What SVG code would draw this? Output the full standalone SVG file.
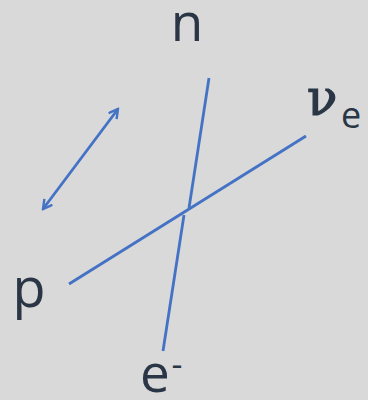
<svg xmlns="http://www.w3.org/2000/svg" width="368" height="400" viewBox="0 0 368 400">
<style>
.t{font-family:"Open Sans","Liberation Sans",sans-serif;fill:#2a3646}
.l{stroke:#4472c4;stroke-width:2.8;fill:none;stroke-linecap:butt}
</style>
<defs>
<marker id="ah" viewBox="0 0 12 12" refX="10" refY="6" markerWidth="12" markerHeight="12" markerUnits="userSpaceOnUse" orient="auto-start-reverse">
<path d="M1,1 L10,6 L1,11" fill="none" stroke="#4472c4" stroke-width="2.4"/>
</marker>
</defs>
<rect width="368" height="400" fill="#d9d9d9"/>
<g id="connectors">
<line class="l" x1="209" y1="78" x2="189" y2="208"/>
<line class="l" x1="184" y1="215" x2="163" y2="351"/>
<line class="l" x1="69" y1="284" x2="306" y2="136"/>
<line class="l" x1="43" y1="209" x2="118" y2="109" marker-start="url(#ah)" marker-end="url(#ah)"/>
</g>
<g id="n"><text class="t" x="187" y="41" font-size="53" text-anchor="middle">n</text></g>
<g id="p"><text class="t" x="29" y="307" font-size="54" text-anchor="middle">p</text></g>
<g id="nue"><text class="t" x="307" y="115" font-size="50" style="font-family:'DejaVu Serif','Liberation Serif',serif;stroke:#2a3646;stroke-width:1.2">ν</text><text class="t" x="341" y="128" font-size="36">e</text></g>
<g id="e"><text class="t" x="155" y="392" font-size="53" text-anchor="middle">e</text><text class="t" x="177" y="376" font-size="34" text-anchor="middle">-</text></g>
</svg>
